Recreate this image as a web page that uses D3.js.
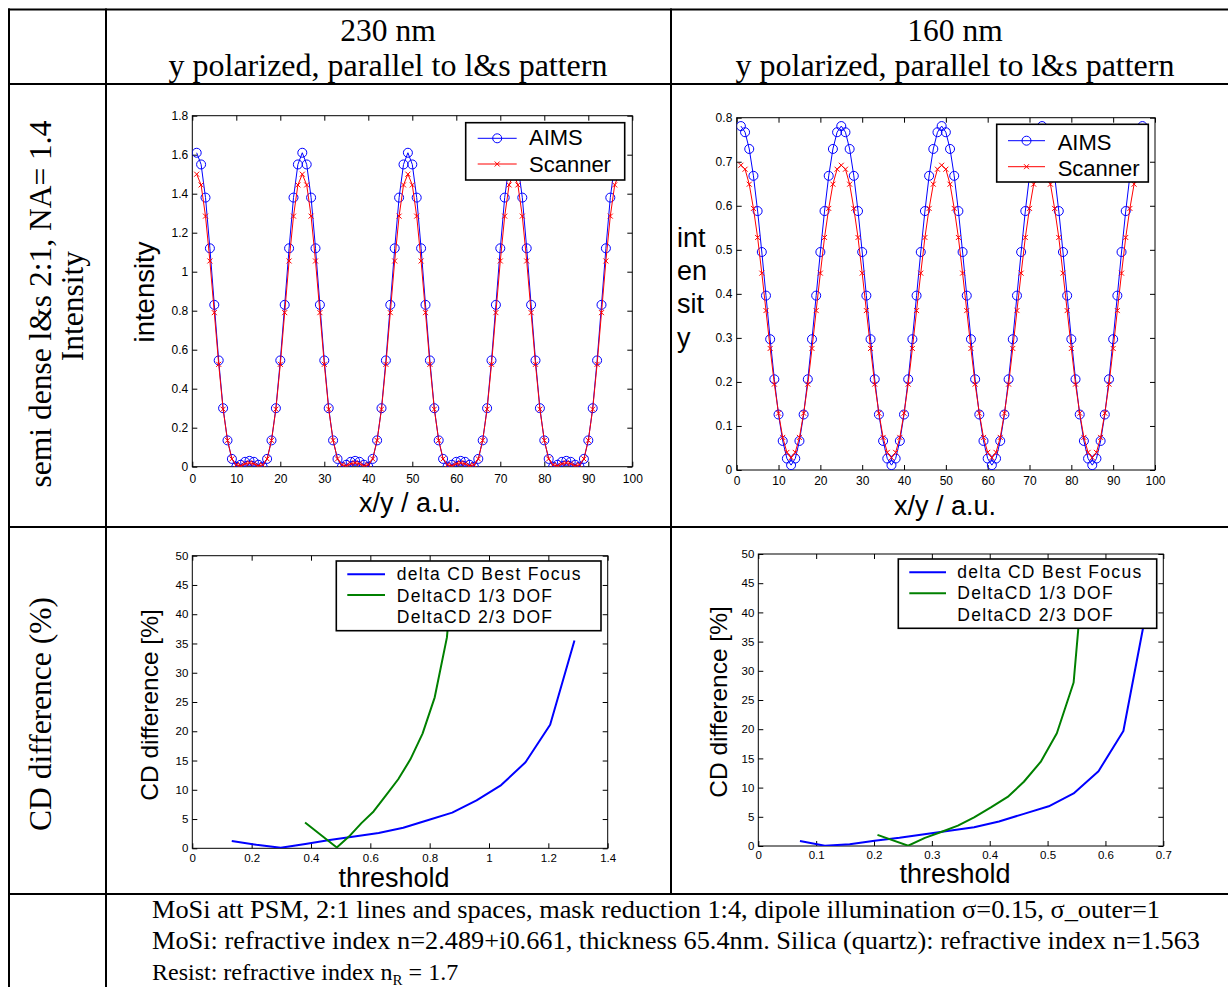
<!DOCTYPE html>
<html>
<head>
<meta charset="utf-8">
<script src="https://cdn.jsdelivr.net/npm/d3@7"></script>
<style>
  body { margin: 0; background: #fff; }
  svg { display: block; }
</style>
</head>
<body>
<svg id="fig" width="1228" height="987"></svg>
<script>
// ---- data ----
const colTitles = ["230 nm", "160 nm"];
const colSubtitle = "y polarized, parallel to l&s pattern";
const rowLabel1 = ["semi dense l&s 2:1, NA= 1.4", "Intensity"];
const rowLabel2 = "CD difference (%)";
const notes = [
  "MoSi att PSM, 2:1 lines and spaces, mask reduction 1:4, dipole illumination \u03c3=0.15, \u03c3_outer=1",
  "MoSi: refractive index n=2.489+i0.661, thickness 65.4nm. Silica (quartz): refractive index n=1.563"
];
const noteWidths = [1008, 1048];

const profileLegend = ["AIMS", "Scanner"];
const cdLegend = ["delta CD Best Focus", "DeltaCD 1/3 DOF", "DeltaCD 2/3 DOF"];

const profileXTicks = [0, 10, 20, 30, 40, 50, 60, 70, 80, 90, 100];
const int230Ticks = [0, 0.2, 0.4, 0.6, 0.8, 1, 1.2, 1.4, 1.6, 1.8];
const int160Ticks = [0, 0.1, 0.2, 0.3, 0.4, 0.5, 0.6, 0.7, 0.8];
const cdYTicks = [0, 5, 10, 15, 20, 25, 30, 35, 40, 45, 50];
const thr230Ticks = [0, 0.2, 0.4, 0.6, 0.8, 1, 1.2, 1.4];
const thr160Ticks = [0, 0.1, 0.2, 0.3, 0.4, 0.5, 0.6, 0.7];

// aerial image profiles, sample positions 1..97
const sampleX = d3.range(1, 98);
const aims230 = [
  1.61,1.55,1.38,1.12,0.83,0.545,0.3,0.135,0.04,0,0.01,0.025,0.03,0.025,0.01,0,0.04,0.135,0.3,0.545,0.83,1.12,1.38,1.55,
  1.61,1.55,1.38,1.12,0.83,0.545,0.3,0.135,0.04,0,0.01,0.025,0.03,0.025,0.01,0,0.04,0.135,0.3,0.545,0.83,1.12,1.38,1.55,
  1.61,1.55,1.38,1.12,0.83,0.545,0.3,0.135,0.04,0,0.01,0.025,0.03,0.025,0.01,0,0.04,0.135,0.3,0.545,0.83,1.12,1.38,1.55,
  1.61,1.55,1.38,1.12,0.83,0.545,0.3,0.135,0.04,0,0.01,0.025,0.03,0.025,0.01,0,0.04,0.135,0.3,0.545,0.83,1.12,1.38,1.55,
  1.61
];
const scanner230 = [
  1.5,1.445,1.285,1.055,0.79,0.525,0.295,0.135,0.04,0.01,0.005,0.015,0.02,0.015,0.005,0.01,0.04,0.135,0.295,0.525,0.79,1.055,1.285,1.445,
  1.5,1.445,1.285,1.055,0.79,0.525,0.295,0.135,0.04,0.01,0.005,0.015,0.02,0.015,0.005,0.01,0.04,0.135,0.295,0.525,0.79,1.055,1.285,1.445,
  1.5,1.445,1.285,1.055,0.79,0.525,0.295,0.135,0.04,0.01,0.005,0.015,0.02,0.015,0.005,0.01,0.04,0.135,0.295,0.525,0.79,1.055,1.285,1.445,
  1.5,1.445,1.285,1.055,0.79,0.525,0.295,0.135,0.04,0.01,0.005,0.015,0.02,0.015,0.005,0.01,0.04,0.135,0.295,0.525,0.79,1.055,1.285,1.445,
  1.5
];
const aims160 = [
  0.781,0.767,0.729,0.668,0.588,0.495,0.396,0.297,0.206,0.126,0.066,0.026,0.011,0.026,0.066,0.126,0.206,0.297,0.396,0.495,0.588,0.668,0.729,0.767,
  0.781,0.767,0.729,0.668,0.588,0.495,0.396,0.297,0.206,0.126,0.066,0.026,0.011,0.026,0.066,0.126,0.206,0.297,0.396,0.495,0.588,0.668,0.729,0.767,
  0.781,0.767,0.729,0.668,0.588,0.495,0.396,0.297,0.206,0.126,0.066,0.026,0.011,0.026,0.066,0.126,0.206,0.297,0.396,0.495,0.588,0.668,0.729,0.767,
  0.781,0.767,0.729,0.668,0.588,0.495,0.396,0.297,0.206,0.126,0.066,0.026,0.011,0.026,0.066,0.126,0.206,0.297,0.396,0.495,0.588,0.668,0.729,0.767,
  0.781
];
const scanner160 = [
  0.692,0.683,0.649,0.594,0.528,0.447,0.362,0.276,0.195,0.129,0.074,0.04,0.028,0.04,0.074,0.129,0.195,0.276,0.362,0.447,0.528,0.594,0.649,0.683,
  0.692,0.683,0.649,0.594,0.528,0.447,0.362,0.276,0.195,0.129,0.074,0.04,0.028,0.04,0.074,0.129,0.195,0.276,0.362,0.447,0.528,0.594,0.649,0.683,
  0.692,0.683,0.649,0.594,0.528,0.447,0.362,0.276,0.195,0.129,0.074,0.04,0.028,0.04,0.074,0.129,0.195,0.276,0.362,0.447,0.528,0.594,0.649,0.683,
  0.692,0.683,0.649,0.594,0.528,0.447,0.362,0.276,0.195,0.129,0.074,0.04,0.028,0.04,0.074,0.129,0.195,0.276,0.362,0.447,0.528,0.594,0.649,0.683,
  0.692
];

// CD difference vs threshold
const bf230X = [0.133,0.216,0.298,0.381,0.463,0.546,0.628,0.711,0.793,0.876,0.958,1.041,1.123,1.206,1.288];
const bf230Y = [1.25,0.6,0.1,0.75,1.4,2.0,2.6,3.5,4.8,6.1,8.2,10.8,14.7,21.1,35.5];
const dof230X = [0.38,0.487,0.528,0.57,0.611,0.652,0.694,0.735,0.776,0.817,0.858,0.88];
const dof230Y = [4.4,0.15,2.0,4.3,6.3,9.0,11.8,15.2,19.6,25.8,36.0,48];
const bf160X = [0.072,0.115,0.158,0.201,0.244,0.287,0.33,0.373,0.416,0.459,0.502,0.545,0.588,0.631,0.674];
const bf160Y = [0.85,0.05,0.3,0.9,1.4,2.0,2.6,3.2,4.2,5.5,6.8,9.0,12.8,19.7,42];
const dof160X = [0.206,0.259,0.288,0.316,0.345,0.373,0.402,0.431,0.459,0.488,0.516,0.545,0.56];
const dof160Y = [1.9,0.05,1.4,2.4,3.5,4.9,6.6,8.4,11.0,14.4,19.3,28.0,45];

// ---- drawing ----
const SANS = '"Liberation Sans", Arial, Helvetica, sans-serif';
const SERIF = '"Liberation Serif", "Times New Roman", Times, serif';
const svg = d3.select("#fig");
const fmt = d => String(+d.toFixed(2));

// table frame
const frame = svg.append("g").attr("stroke", "#000").attr("stroke-width", 2);
[
  [8, 9.5, 1228, 9.5], [8, 84, 1228, 84], [8, 527, 1228, 527], [8, 894, 1228, 894],
  [9, 8.5, 9, 987], [106, 8.5, 106, 987], [671, 8.5, 671, 894]
].forEach(([x1, y1, x2, y2]) => frame.append("line").attr("x1", x1).attr("y1", y1).attr("x2", x2).attr("y2", y2));

// header
[388, 955].forEach((cx, i) => {
  svg.append("text").attr("x", cx).attr("y", 41).attr("text-anchor", "middle")
    .attr("font-family", SERIF).attr("font-size", 31.5).text(colTitles[i]);
  svg.append("text").attr("x", cx).attr("y", 76).attr("text-anchor", "middle")
    .attr("font-family", SERIF).attr("font-size", 32).text(colSubtitle);
});

// row labels (rotated)
svg.append("text").attr("transform", "translate(51,304) rotate(-90)").attr("text-anchor", "middle")
  .attr("font-family", SERIF).attr("font-size", 31.5).text(rowLabel1[0]);
svg.append("text").attr("transform", "translate(83,306) rotate(-90)").attr("text-anchor", "middle")
  .attr("font-family", SERIF).attr("font-size", 31.5).text(rowLabel1[1]);
svg.append("text").attr("transform", "translate(51,714) rotate(-90)").attr("text-anchor", "middle")
  .attr("font-family", SERIF).attr("font-size", 31.5).text(rowLabel2);

// notes row
notes.forEach((t, i) => {
  svg.append("text").attr("x", 152).attr("y", 918 + i * 31)
    .attr("font-family", SERIF).attr("font-size", 25)
    .attr("textLength", noteWidths[i]).attr("lengthAdjust", "spacingAndGlyphs").text(t);
});
const n3 = svg.append("text").attr("x", 152).attr("y", 980)
  .attr("font-family", SERIF).attr("font-size", 24);
n3.append("tspan").text("Resist: refractive index n");
n3.append("tspan").attr("font-size", 15).attr("dy", 5).text("R");
n3.append("tspan").attr("dy", -5).text(" = 1.7");

const panels = [
  {
    id: "p230", xDomain: [0, 100], yDomain: [0, 1.8], box: [192.3, 115.7, 632.3, 466.7],
    xTicks: profileXTicks, yTicks: int230Ticks, tickFont: 12, xPad: 7.5, yPad: 4,
    series: [
      { x: sampleX, y: aims230, color: "#0000ff", w: 1, marker: "o" },
      { x: sampleX, y: scanner230, color: "#ff0000", w: 1, marker: "x" }
    ],
    legend: { box: [465.7, 122.7, 624.7, 180], sx: [477.7, 516.7], tx: 529, font: 22, spacing: 0,
      rows: [{ ly: 138.3, by: 145 }, { ly: 164, by: 171.7 }], labels: profileLegend }
  },
  {
    id: "p160", xDomain: [0, 100], yDomain: [0, 0.8], box: [736.7, 117.7, 1155, 470],
    xTicks: profileXTicks, yTicks: int160Ticks, tickFont: 12, xPad: 6.5, yPad: 4.4,
    series: [
      { x: sampleX, y: aims160, color: "#0000ff", w: 1, marker: "o" },
      { x: sampleX, y: scanner160, color: "#ff0000", w: 1, marker: "x" }
    ],
    legend: { box: [996.7, 124.3, 1148.3, 182], sx: [1008, 1045], tx: 1057.7, font: 22, spacing: 0,
      rows: [{ ly: 140.7, by: 150 }, { ly: 166.7, by: 176 }], labels: profileLegend }
  },
  {
    id: "c230", xDomain: [0, 1.4], yDomain: [0, 50], box: [192.3, 555.7, 607.7, 848.3],
    xTicks: thr230Ticks, yTicks: cdYTicks, tickFont: 11.5, xPad: 5.2, yPad: 4,
    series: [
      { x: bf230X, y: bf230Y, color: "#0000ff", w: 2 },
      { x: dof230X, y: dof230Y, color: "#008000", w: 2 }
    ],
    legend: { box: [336.3, 561, 601, 630.7], sx: [347.3, 385], tx: 396.7, font: 17.5, spacing: 1.3,
      rows: [{ ly: 574.3, by: 580 }, { ly: 595, by: 601.7 }, { ly: null, by: 622.7 }], labels: cdLegend }
  },
  {
    id: "c160", xDomain: [0, 0.7], yDomain: [0, 50], box: [758.3, 554, 1163.3, 846],
    xTicks: thr160Ticks, yTicks: cdYTicks, tickFont: 11.5, xPad: 5.1, yPad: 4,
    series: [
      { x: bf160X, y: bf160Y, color: "#0000ff", w: 2 },
      { x: dof160X, y: dof160Y, color: "#008000", w: 2 }
    ],
    legend: { box: [898.3, 559, 1156.7, 628.3], sx: [909.3, 946], tx: 957.3, font: 17.5, spacing: 1.3,
      rows: [{ ly: 572.3, by: 577.7 }, { ly: 593.3, by: 599.3 }, { ly: null, by: 620.7 }], labels: cdLegend }
  }
];

function marker(g, type, cx, cy, color) {
  if (type === "o") {
    g.append("circle").attr("cx", cx).attr("cy", cy).attr("r", 4.5)
      .attr("fill", "none").attr("stroke", color).attr("stroke-width", 1);
  } else if (type === "x") {
    g.append("path").attr("transform", `translate(${cx},${cy})`)
      .attr("d", "M-2.5,-2.5L2.5,2.5M-2.5,2.5L2.5,-2.5")
      .attr("fill", "none").attr("stroke", color).attr("stroke-width", 1);
  }
}

function styleAxis(sel, font) {
  sel.attr("font-family", SANS).attr("font-size", font);
  sel.select(".domain").remove();
  sel.selectAll("line").attr("stroke", "#000");
  sel.selectAll("text").attr("fill", "#000");
}

panels.forEach(p => {
  const [l, t, r, b] = p.box;
  const x = d3.scaleLinear().domain(p.xDomain).range([l, r]);
  const y = d3.scaleLinear().domain(p.yDomain).range([b, t]);
  const g = svg.append("g");

  svg.append("clipPath").attr("id", "clip-" + p.id)
    .append("rect").attr("x", l).attr("y", t).attr("width", r - l).attr("height", b - t);

  g.append("g").attr("transform", `translate(0,${b})`)
    .call(d3.axisBottom(x).tickValues(p.xTicks).tickFormat(fmt).tickSizeInner(-5).tickSizeOuter(0).tickPadding(p.xPad))
    .call(s => styleAxis(s, p.tickFont));
  g.append("g").attr("transform", `translate(0,${t})`)
    .call(d3.axisTop(x).tickValues(p.xTicks).tickFormat("").tickSizeInner(-5).tickSizeOuter(0))
    .call(s => styleAxis(s, p.tickFont));
  g.append("g").attr("transform", `translate(${l},0)`)
    .call(d3.axisLeft(y).tickValues(p.yTicks).tickFormat(fmt).tickSizeInner(-5).tickSizeOuter(0).tickPadding(p.yPad))
    .call(s => styleAxis(s, p.tickFont));
  g.append("g").attr("transform", `translate(${r},0)`)
    .call(d3.axisRight(y).tickValues(p.yTicks).tickFormat("").tickSizeInner(-5).tickSizeOuter(0))
    .call(s => styleAxis(s, p.tickFont));

  g.append("rect").attr("x", l).attr("y", t).attr("width", r - l).attr("height", b - t)
    .attr("fill", "none").attr("stroke", "#000").attr("stroke-width", 1);

  const plot = g.append("g").attr("clip-path", `url(#clip-${p.id})`);
  p.series.forEach(s => {
    const pts = s.x.map((v, i) => [x(v), y(s.y[i])]);
    plot.append("path").attr("d", d3.line()(pts))
      .attr("fill", "none").attr("stroke", s.color).attr("stroke-width", s.w)
      .attr("stroke-linejoin", "round");
    if (s.marker) pts.forEach(([px, py]) => marker(plot, s.marker, px, py, s.color));
  });

  // legend
  const L = p.legend;
  const lg = g.append("g");
  lg.append("rect").attr("x", L.box[0]).attr("y", L.box[1])
    .attr("width", L.box[2] - L.box[0]).attr("height", L.box[3] - L.box[1])
    .attr("fill", "#fff").attr("stroke", "#000").attr("stroke-width", 1.6);
  L.rows.forEach((row, i) => {
    const s = p.series[i];
    if (s && row.ly !== null) {
      lg.append("line").attr("x1", L.sx[0]).attr("x2", L.sx[1]).attr("y1", row.ly).attr("y2", row.ly)
        .attr("stroke", s.color).attr("stroke-width", s.w);
      if (s.marker) marker(lg, s.marker, (L.sx[0] + L.sx[1]) / 2, row.ly, s.color);
    }
    lg.append("text").attr("x", L.tx).attr("y", row.by)
      .attr("font-family", SANS).attr("font-size", L.font)
      .attr("letter-spacing", L.spacing).text(L.labels[i]);
  });
});

// axis titles
svg.append("text").attr("transform", "translate(154,292) rotate(-90)").attr("text-anchor", "middle")
  .attr("font-family", SANS).attr("font-size", 27.5).text("intensity");
["int", "en", "sit", "y"].forEach((t, i) => {
  svg.append("text").attr("x", 677).attr("y", 246.7 + i * 33.3)
    .attr("font-family", SANS).attr("font-size", 27).text(t);
});
svg.append("text").attr("x", 410).attr("y", 512).attr("text-anchor", "middle")
  .attr("font-family", SANS).attr("font-size", 27).text("x/y / a.u.");
svg.append("text").attr("x", 945).attr("y", 515).attr("text-anchor", "middle")
  .attr("font-family", SANS).attr("font-size", 27).text("x/y / a.u.");
svg.append("text").attr("transform", "translate(158,705) rotate(-90)").attr("text-anchor", "middle")
  .attr("font-family", SANS).attr("font-size", 24.5).text("CD difference [%]");
svg.append("text").attr("transform", "translate(727,702) rotate(-90)").attr("text-anchor", "middle")
  .attr("font-family", SANS).attr("font-size", 24.5).text("CD difference [%]");
svg.append("text").attr("x", 394).attr("y", 887).attr("text-anchor", "middle")
  .attr("font-family", SANS).attr("font-size", 27).text("threshold");
svg.append("text").attr("x", 955).attr("y", 883).attr("text-anchor", "middle")
  .attr("font-family", SANS).attr("font-size", 27).text("threshold");
</script>
</body>
</html>
